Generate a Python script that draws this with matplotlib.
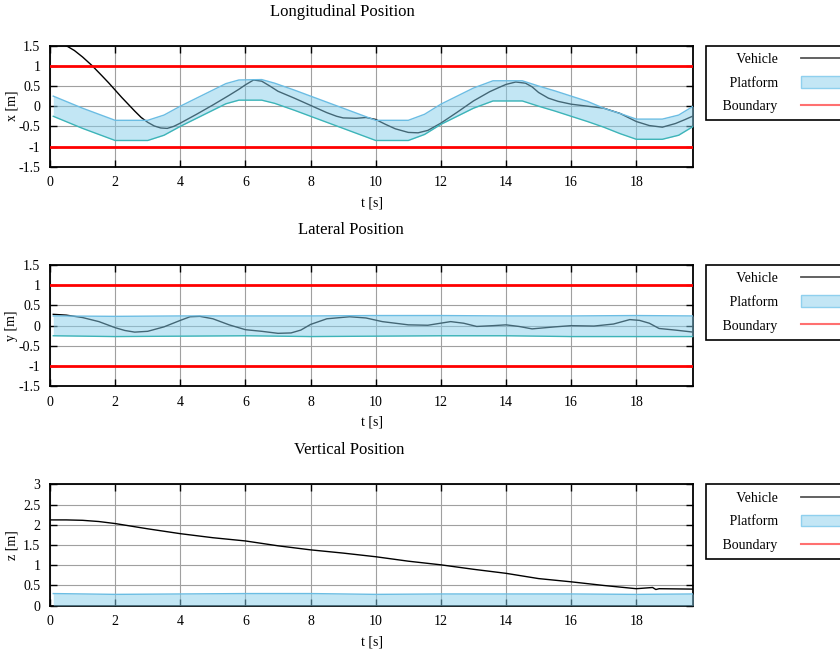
import numpy as np
import matplotlib.pyplot as plt
from matplotlib.lines import Line2D
from matplotlib.patches import Patch

plt.rcParams['font.family'] = ['Liberation Serif', 'DejaVu Serif']
plt.rcParams['font.size'] = 10

# ---- longitudinal ----
tx_veh = [0.0, 0.25, 0.5, 0.75, 1.0, 1.3, 1.6, 1.8, 2.0, 2.2, 2.4, 2.6, 2.8, 3.0, 3.2, 3.4, 3.6, 3.8, 4.0,
          4.5, 5.0, 5.5, 5.8, 6.0, 6.25, 6.5, 6.75, 7.0, 7.5, 8.0, 8.5, 8.8, 9.0, 9.4, 9.7, 10.0, 10.3,
          10.6, 11.0, 11.3, 11.6, 12.0, 12.5, 13.0, 13.5, 13.8, 14.0, 14.3, 14.6, 14.8, 15.0, 15.3, 15.6,
          16.0, 16.5, 17.0, 17.5, 17.8, 18.0, 18.4, 18.8, 19.2, 19.5, 19.75]
x_veh = [1.62, 1.58, 1.5, 1.38, 1.22, 1.0, 0.75, 0.58, 0.4, 0.22, 0.05, -0.12, -0.28, -0.4, -0.49, -0.54,
         -0.55, -0.5, -0.42, -0.2, 0.03, 0.27, 0.42, 0.53, 0.65, 0.62, 0.5, 0.37, 0.2, 0.02, -0.16, -0.25,
         -0.29, -0.3, -0.28, -0.33, -0.45, -0.56, -0.65, -0.66, -0.6, -0.42, -0.15, 0.13, 0.36, 0.47,
         0.54, 0.6, 0.57, 0.48, 0.34, 0.2, 0.12, 0.05, 0.0, -0.05, -0.18, -0.3, -0.38, -0.48, -0.52, -0.43,
         -0.33, -0.24]
tx_plat = [0.1, 1.0, 2.0, 3.0, 3.5, 4.0, 4.5, 5.0, 5.4, 5.8, 6.5, 6.9, 7.5, 8.0, 8.5, 9.0, 9.5, 10.0, 11.0,
           11.5, 12.0, 12.5, 13.0, 13.6, 14.5, 15.0, 15.5, 16.0, 16.5, 17.0, 17.5, 18.0, 18.8, 19.3, 19.75]
x_plat_hi = [0.25, -0.05, -0.35, -0.35, -0.22, 0.0, 0.2, 0.4, 0.56, 0.65, 0.66, 0.57, 0.4, 0.25, 0.1, -0.05,
             -0.2, -0.35, -0.35, -0.2, 0.05, 0.25, 0.45, 0.63, 0.63, 0.5, 0.38, 0.25, 0.12, -0.05, -0.18,
             -0.32, -0.32, -0.22, 0.0]
x_plat_lo = [-0.25, -0.55, -0.85, -0.85, -0.72, -0.5, -0.3, -0.1, 0.06, 0.15, 0.15, 0.07, -0.1, -0.25,
             -0.4, -0.55, -0.7, -0.85, -0.85, -0.7, -0.45, -0.25, -0.05, 0.13, 0.13, 0.0, -0.12, -0.25,
             -0.38, -0.52, -0.68, -0.82, -0.82, -0.72, -0.5]

# ---- lateral ----
ty_veh = [0.1, 0.5, 1.0, 1.5, 2.0, 2.3, 2.6, 3.0, 3.5, 4.0, 4.3, 4.6, 5.0, 5.5, 6.0, 6.5, 7.0, 7.4, 7.7,
          8.0, 8.5, 9.2, 9.7, 10.2, 11.0, 11.6, 12.3, 12.7, 13.1, 13.6, 14.0, 14.4, 14.8, 15.5, 16.0, 16.7,
          17.3, 17.8, 18.1, 18.4, 18.7, 19.2, 19.75]
y_veh = [0.28, 0.26, 0.2, 0.1, -0.05, -0.12, -0.16, -0.14, -0.03, 0.13, 0.22, 0.23, 0.17, 0.02, -0.1,
         -0.14, -0.19, -0.18, -0.11, 0.03, 0.17, 0.22, 0.19, 0.1, 0.02, 0.01, 0.1, 0.06, -0.02, 0.0, 0.02,
         -0.02, -0.08, -0.03, 0.0, -0.01, 0.04, 0.15, 0.13, 0.06, -0.07, -0.11, -0.16]
ty_plat = [0.1, 2.0, 4.0, 6.0, 8.0, 10.0, 12.0, 14.0, 16.0, 18.0, 19.75]
y_plat_hi = [0.24, 0.23, 0.24, 0.24, 0.24, 0.25, 0.25, 0.24, 0.24, 0.25, 0.24]
y_plat_lo = [-0.25, -0.27, -0.26, -0.25, -0.27, -0.26, -0.25, -0.25, -0.27, -0.27, -0.27]

# ---- vertical ----
tz_veh = [0.0, 0.5, 1.0, 1.5, 2.0, 3.0, 4.0, 5.0, 6.0, 7.0, 8.0, 9.0, 10.0, 11.0, 12.0, 13.0, 14.0, 15.0,
          16.0, 17.0, 18.0, 18.5, 18.6, 18.7, 19.75]
z_veh = [2.12, 2.12, 2.11, 2.08, 2.03, 1.9, 1.78, 1.68, 1.6, 1.48, 1.38, 1.3, 1.21, 1.1, 1.01, 0.9, 0.8,
         0.67, 0.59, 0.5, 0.42, 0.45, 0.4, 0.42, 0.41]
tz_plat = [0.1, 2.0, 4.0, 6.0, 8.0, 10.0, 12.0, 14.0, 16.0, 18.0, 19.75]
z_plat_hi = [0.3, 0.28, 0.29, 0.3, 0.3, 0.28, 0.29, 0.29, 0.29, 0.28, 0.29]
z_plat_lo = [0.0] * len(tz_plat)

boundary = 1.0

fig = plt.figure(figsize=(8.4, 6.53), dpi=100)
W, H = 840, 653


def make_axes(top, bottom):
    return fig.add_axes([50 / W, 1 - bottom / H, (693.3 - 50) / W, (bottom - top) / H])


panels = [
    (make_axes(45.7, 166.7), tx_veh, x_veh, tx_plat, x_plat_hi, x_plat_lo, 'x [m]', 'Longitudinal Position',
     (342, 11.5), (-1.5, 1.5), True),
    (make_axes(265, 386.3), ty_veh, y_veh, ty_plat, y_plat_hi, y_plat_lo, 'y [m]', 'Lateral Position',
     (351, 230.5), (-1.5, 1.5), True),
    (make_axes(484.3, 605.7), tz_veh, z_veh, tz_plat, z_plat_hi, z_plat_lo, 'z [m]', 'Vertical Position',
     (349, 450.5), (0, 3), False),
]

for ax, tv, v, tp, hi, lo, ylab, title, tpos, ylim, show_bound in panels:
    ax.plot(tv, v, color='black', lw=1.0, zorder=3)
    ax.fill_between(tp, lo, hi, color='#87ceeb', alpha=0.5, lw=0, zorder=4)
    ax.plot(tp, hi, color='#6bbde3', lw=1.0, zorder=4)
    if show_bound:
        ax.plot(tp, lo, color='#3db4b8', lw=1.0, zorder=4)
        ax.axhline(boundary, color='#ff0000', lw=2.0, zorder=5)
        ax.axhline(-boundary, color='#ff0000', lw=2.0, zorder=5)
    ax.set_xlim(0, 19.75)
    ax.set_ylim(*ylim)
    ax.set_xticks(np.arange(0, 19, 2))
    yt = np.arange(ylim[0], ylim[1] + 0.01, 0.5)
    ax.set_yticks(yt)
    ax.set_yticklabels([f'{y:g}' for y in yt])
    ax.grid(True, color='#a0a0a0', lw=0.8, zorder=1)
    ax.set_axisbelow(True)
    ax.tick_params(direction='in', length=5, width=1, top=True, right=True, labelsize=10, pad=7)
    for s in ax.spines.values():
        s.set_linewidth(1.3)
    ax.set_xlabel('t [s]', fontsize=10, labelpad=5)
    ax.set_ylabel(ylab, fontsize=10)
    ax.yaxis.set_label_coords(-0.0497, 0.5)
    fig.text(tpos[0] / W, 1 - tpos[1] / H, title, ha='center', va='center', fontsize=12)

    handles = [Line2D([], [], color='#555555', lw=1.3),
               Patch(facecolor='#c3e6f5', edgecolor='#8fd0ee', lw=1.0),
               Line2D([], [], color='#ff7070', lw=1.5)]
    ax.legend(handles, ['   Vehicle', '   Platform', '   Boundary'], loc='upper left',
              bbox_to_anchor=(1.019, 1.0), borderaxespad=0, markerfirst=False,
              fancybox=False, framealpha=1, edgecolor='black', fontsize=10,
              handlelength=5, handleheight=0.9, handletextpad=1.65, labelspacing=0.72,
              borderpad=0.5).get_frame().set_linewidth(1.2)

fig.savefig('out.png', dpi=100)
